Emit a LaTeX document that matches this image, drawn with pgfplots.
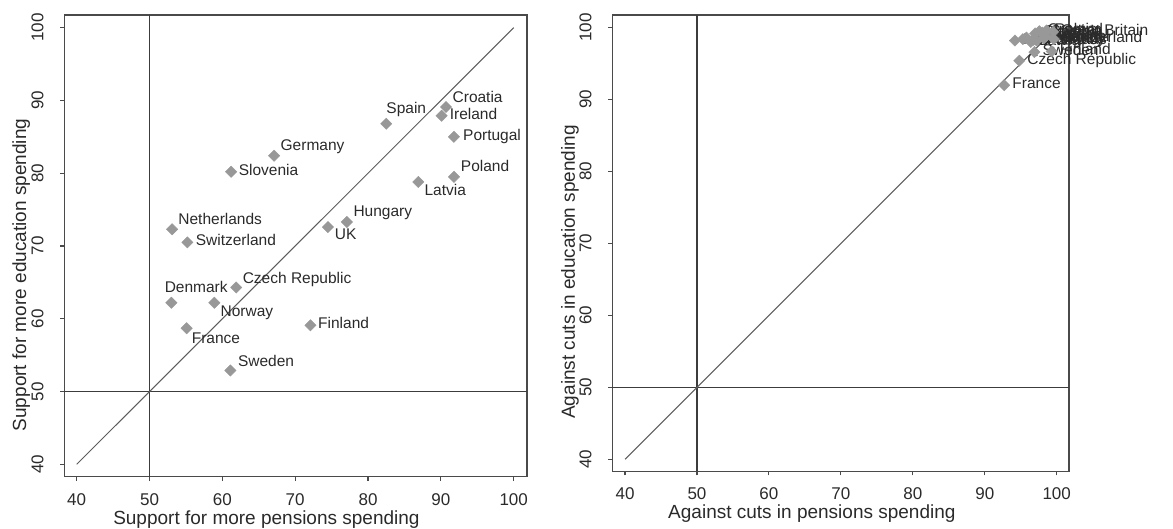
\documentclass[border=0pt]{standalone}
\usepackage{pgfplots}
\pgfplotsset{compat=1.18}
\usepackage{pgfplotstable}
\usepackage{fontspec}
\setmainfont{Liberation Sans}
\definecolor{axisgray}{HTML}{4A4A4A}
\definecolor{markgray}{HTML}{989898}
\definecolor{diaggray}{HTML}{5C5C5C}
\definecolor{refgray}{HTML}{3C3C3C}
\definecolor{txtgray}{HTML}{2A2A2A}

\pgfplotstableread[col sep=comma]{
x,y,dx,dy,name
90.7,89.1,6.5,7.8,Croatia
90.1,87.9,8,0,Ireland
82.5,86.8,0,13.8,Spain
91.8,85.0,9,0,Portugal
67.1,82.4,6.4,8.8,Germany
61.2,80.2,7.5,0,Slovenia
91.8,79.5,6.8,9,Poland
86.9,78.8,6.1,-10.1,Latvia
77.1,73.3,6.4,9.1,Hungary
74.5,72.6,6.8,-8.4,UK
53.1,72.3,6.1,8.1,Netherlands
55.2,70.5,8.2,0,Switzerland
61.9,64.3,6.4,7.7,Czech Republic
53.0,62.2,-6.8,13.4,Denmark
58.9,62.2,6.1,-10.1,Norway
55.1,58.7,5,-12.1,France
72.1,59.1,7.5,0,Finland
61.1,52.9,7.5,7.4,Sweden
}\leftdata

\pgfplotstableread[col sep=comma]{
x,y,dx,dy,name
92.7,92.0,8,0,France
94.8,95.4,8,0,Czech Republic
96.9,96.6,8,0,Sweden
99.3,96.7,8,0,Finland
94.2,98.2,8,0,Netherlands
95.3,98.4,8,0,Denmark
95.8,98.6,8,0,Norway
96.4,98.0,8,0,Latvia
96.8,98.3,8,0,Germany
97.2,98.2,8,0,Hungary
97.0,99.2,8,0,Slovenia
97.6,99.5,8,0,Croatia
98.0,99.3,8,0,Spain
98.2,98.5,8,0,Portugal
98.5,98.8,8,0,Ireland
98.6,99.6,8,0,Poland
99.6,98.4,8,0,Switzerland
99.5,99.4,8,0,Great Britain
}\rightdata

\pgfplotsset{
  stata/.style={
    scale only axis,
    clip=false,
    axis line style={axisgray, line width=1.4pt},
    tick style={axisgray, line width=1.1pt},
    tick align=outside,
    major tick length=4pt,
    xtick pos=left, ytick pos=left,
    xtick={40,50,60,70,80,90,100},
    ytick={40,50,60,70,80,90,100},
    /pgf/number format/assume math mode=true,
    ticklabel style={font=\fontsize{17}{17}\selectfont, text=txtgray},
    xticklabel style={anchor=north, inner sep=0pt},
    yticklabel style={rotate=90, anchor=south, inner sep=0pt},
    xticklabel shift=12.5pt,
    yticklabel shift=16.5pt,
    every axis x label/.style={at={(axis description cs:0.437,0)}, anchor=north, inner sep=0pt, yshift=-33.5pt, font=\fontsize{19}{19}\selectfont, text=txtgray},
    every axis y label/.style={at={(axis description cs:-0.1125,0.437)}, rotate=90, anchor=north, inner sep=0pt, font=\fontsize{19}{19}\selectfont, text=txtgray},
  },
  ctry/.style={
    only marks, mark=square*, mark size=4pt,
    mark options={rotate=45, fill=markgray, draw=markgray},
    nodes near coords, point meta=explicit symbolic,
    visualization depends on={\thisrow{dx}\as\mydx},
    visualization depends on={\thisrow{dy}\as\mydy},
    every node near coord/.append style={anchor=west, inner sep=0pt, text height=0.72em, text depth=0pt,
      font=\fontsize{15.5}{15.5}\selectfont, text=txtgray, xshift=\mydx*1pt, yshift=\mydy*1pt},
  },
}

\begin{document}
\begin{tikzpicture}
\useasboundingbox (-64.3pt,-51.3pt) rectangle (1108.7pt,476.7pt);
\begin{axis}[stata,
  at={(0pt,0pt)}, anchor=south west,
  width=462.5pt, height=461.7pt,
  xmin=38.3, xmax=101.8, ymin=38.3, ymax=101.74,
  xlabel={Support for more pensions spending},
  ylabel={Support for more education spending}]
\addplot[refgray, line width=1.4pt] coordinates {(50,38.3) (50,101.74)};
\addplot[refgray, line width=1.4pt] coordinates {(38.3,50) (101.8,50)};
\addplot[diaggray, line width=1pt] coordinates {(40,40) (100,100)};
\addplot[ctry] table[x=x, y=y, meta=name] {\leftdata};
\end{axis}
\begin{axis}[stata,
  at={(548pt,5.4pt)}, anchor=south west,
  width=456.7pt, height=456.3pt,
  xmin=38.23, xmax=101.71, ymin=38.33, ymax=101.75,
  xlabel={Against cuts in pensions spending},
  ylabel={Against cuts in education spending}]
\addplot[refgray, line width=1.4pt] coordinates {(50,38.33) (50,101.75)};
\addplot[refgray, line width=1.4pt] coordinates {(38.23,50) (101.71,50)};
\addplot[diaggray, line width=1pt] coordinates {(40,40) (100,100)};
\addplot[ctry] table[x=x, y=y, meta=name] {\rightdata};
\end{axis}
\end{tikzpicture}
\end{document}
